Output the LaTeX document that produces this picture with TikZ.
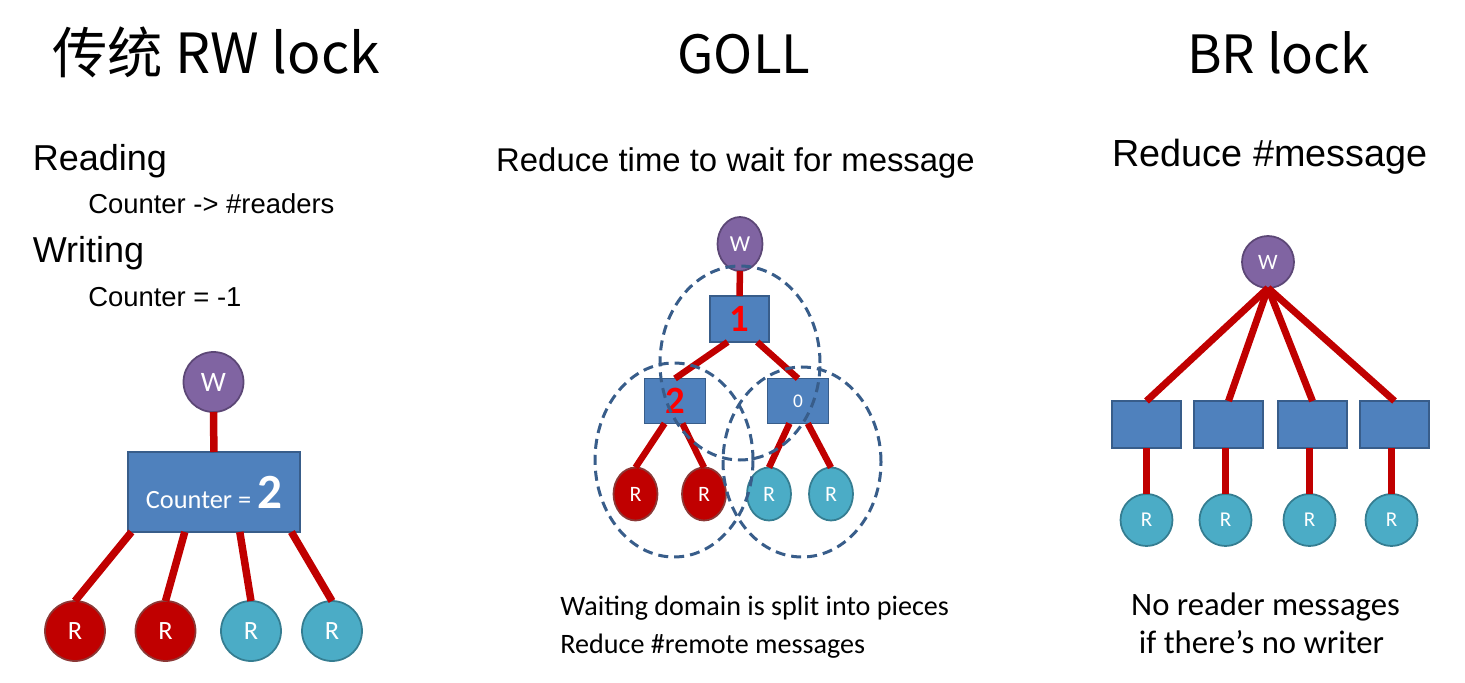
\documentclass[tikz,border=0pt]{standalone}
\usepackage{fontspec}
\usepackage{tikz}
\usepackage{xcolor}
\usetikzlibrary{shapes.geometric,calc}

\setmainfont{Liberation Sans}
\newfontfamily\titlefont{Noto Sans CJK SC}
\newfontfamily\calfont{Carlito}

\definecolor{wFill}{HTML}{8064A2}
\definecolor{wDraw}{HTML}{5C4776}
\definecolor{boxFill}{HTML}{4F81BD}
\definecolor{boxDraw}{HTML}{385D8A}
\definecolor{redFill}{HTML}{C00000}
\definecolor{redDraw}{HTML}{8C3836}
\definecolor{cyanFill}{HTML}{4BACC6}
\definecolor{cyanDraw}{HTML}{357D91}
\definecolor{linkRed}{HTML}{C00000}
\definecolor{domainBlue}{HTML}{385D8A}

\begin{document}
\begin{tikzpicture}
% Define styles
\tikzstyle{titleText}=[font=\titlefont\fontsize{30}{35}\selectfont, anchor=base, inner sep=0pt]
\tikzstyle{wNode}=[circle, inner sep=0pt, outer sep=0pt, fill=wFill, draw=wDraw, line width=1pt, text=white, font=\calfont]
\tikzstyle{wOval}=[ellipse, inner sep=0pt, outer sep=0pt, fill=wFill, draw=wDraw, line width=1pt, text=white, font=\calfont]
\tikzstyle{redR}=[circle, inner sep=0pt, outer sep=0pt, fill=redFill, draw=redDraw, line width=1pt, text=white, font=\calfont]
\tikzstyle{cyanR}=[circle, inner sep=0pt, outer sep=0pt, fill=cyanFill, draw=cyanDraw, line width=1pt, text=white, font=\calfont]
\tikzstyle{redOval}=[ellipse, inner sep=0pt, outer sep=0pt, fill=redFill, draw=redDraw, line width=1pt, text=white, font=\calfont\fontsize{12.5}{15}\selectfont, minimum width=0.88cm, minimum height=1.06cm]
\tikzstyle{cyanOval}=[ellipse, inner sep=0pt, outer sep=0pt, fill=cyanFill, draw=cyanDraw, line width=1pt, text=white, font=\calfont\fontsize{12.5}{15}\selectfont, minimum width=0.88cm, minimum height=1.06cm]
\tikzstyle{blueBox}=[rectangle, inner sep=0pt, outer sep=0pt, fill=boxFill, draw=boxDraw, line width=1pt, text=white, font=\calfont]
\tikzstyle{link}=[draw=linkRed, line width=0.15cm]
\tikzstyle{waitDomain}=[ellipse, draw=domainBlue, line width=0.06cm, dash pattern=on 0.2cm off 0.12cm, inner sep=0pt]

\useasboundingbox (0,0) rectangle (29.3,-13.66);

% Titles
\node[titleText, font=\titlefont\fontsize{31.5}{36}\selectfont] (tRW) at (4.32,-1.48) {传统 RW lock};
\node[titleText] (tGOLL) at (14.88,-1.48) {GOLL};
\node[titleText] (tBR) at (25.57,-1.48) {BR lock};

% Traditional RW lock
\node[anchor=base west, inner sep=0pt, font=\fontsize{20.5}{24}\selectfont] (reading) at (0.65,-3.42) {Reading};
\node[anchor=base west, inner sep=0pt, font=\fontsize{15.6}{19}\selectfont] (readCnt) at (1.76,-4.28) {Counter -> \#readers};
\node[anchor=base west, inner sep=0pt, font=\fontsize{20.5}{24}\selectfont] (writing) at (0.65,-5.25) {Writing};
\node[anchor=base west, inner sep=0pt, font=\fontsize{15.6}{19}\selectfont] (writeCnt) at (1.76,-6.14) {Counter = -1};

\node[wNode, minimum size=1.2cm, font=\calfont\fontsize{16}{19}\selectfont] (lw) at (4.27,-7.64) {W};
\node[blueBox, minimum width=3.44cm, minimum height=1.6cm] (cnt) at (4.28,-9.84)
  {\fontsize{15}{18}\selectfont Counter = \fontsize{28}{32}\selectfont\textbf{2}};
\node[redR, minimum size=1.2cm, font=\calfont\fontsize{15}{18}\selectfont] (lr1) at (1.5,-12.62) {R};
\node[redR, minimum size=1.2cm, font=\calfont\fontsize{15}{18}\selectfont] (lr2) at (3.31,-12.62) {R};
\node[cyanR, minimum size=1.2cm, font=\calfont\fontsize{15}{18}\selectfont] (lr3) at (5.02,-12.62) {R};
\node[cyanR, minimum size=1.2cm, font=\calfont\fontsize{15}{18}\selectfont] (lr4) at (6.64,-12.62) {R};

\draw[link] (lw) -- (cnt);
\draw[link] (lr1.north) -- ($(cnt.south west)!0.02!(cnt.south east)$);
\draw[link] (lr2.north) -- ($(cnt.south west)!0.33!(cnt.south east)$);
\draw[link] (lr3.north) -- ($(cnt.south west)!0.65!(cnt.south east)$);
\draw[link] (lr4.north) -- ($(cnt.south west)!0.95!(cnt.south east)$);

% GOLL
\node[anchor=base, inner sep=0pt, font=\fontsize{18.7}{22}\selectfont] (gollSub) at (14.71,-3.44) {Reduce time to wait for message};

\node[wOval, minimum width=0.9cm, minimum height=1.08cm, font=\calfont\fontsize{13}{15}\selectfont] (mw) at (14.8,-4.88) {W};
\node[blueBox, minimum width=1.18cm, minimum height=0.92cm, text=red, font=\calfont\bfseries\fontsize{22}{24}\selectfont] (m1) at (14.79,-6.38) {1};
\node[blueBox, minimum width=1.22cm, minimum height=0.9cm, text=red, font=\calfont\bfseries\fontsize{22}{24}\selectfont] (m2) at (13.5,-8.02) {2};
\node[blueBox, minimum width=1.22cm, minimum height=0.9cm, font=\calfont\fontsize{11}{13}\selectfont] (m0) at (15.96,-8.02) {0};
\node[redOval] (mr1) at (12.71,-9.88) {R};
\node[redOval] (mr2) at (14.08,-9.88) {R};
\node[cyanOval] (mr3) at (15.38,-9.88) {R};
\node[cyanOval] (mr4) at (16.62,-9.88) {R};

\draw[link, line width=0.13cm] (mw) -- (m1);
\draw[link, line width=0.13cm] ($(m1.south west)!0.3!(m1.south east)$) -- (m2.north);
\draw[link, line width=0.13cm] ($(m1.south west)!0.8!(m1.south east)$) -- (m0.north);
\draw[link, line width=0.13cm] ($(m2.south west)!0.33!(m2.south east)$) -- (mr1.north);
\draw[link, line width=0.13cm] ($(m2.south west)!0.62!(m2.south east)$) -- (mr2.north);
\draw[link, line width=0.13cm] ($(m0.south west)!0.36!(m0.south east)$) -- (mr3.north);
\draw[link, line width=0.13cm] ($(m0.south west)!0.66!(m0.south east)$) -- (mr4.north);

% waiting domains
\node[waitDomain, minimum width=3.2cm, minimum height=3.88cm] (domTop) at (14.8,-7.26) {};
\node[waitDomain, minimum width=3.16cm, minimum height=3.88cm] (domLeft) at (13.48,-9.2) {};
\node[waitDomain, minimum width=3.16cm, minimum height=3.8cm] (domRight) at (16.04,-9.24) {};

\node[anchor=base west, inner sep=0pt, font=\calfont\fontsize{16}{19}\selectfont] (gollNote1) at (11.2,-12.3) {Waiting domain is split into pieces};
\node[anchor=base west, inner sep=0pt, font=\calfont\fontsize{16}{19}\selectfont] (gollNote2) at (11.2,-13.06) {Reduce \#remote messages};

% BR lock
\node[anchor=base, inner sep=0pt, font=\fontsize{21.5}{25}\selectfont] (brSub) at (25.4,-3.34) {Reduce \#message};

\node[wNode, minimum size=1.04cm, font=\calfont\fontsize{12.5}{15}\selectfont] (bw) at (25.36,-5.24) {W};
\node[blueBox, minimum width=1.38cm, minimum height=0.94cm] (b1) at (22.93,-8.49) {};
\node[blueBox, minimum width=1.38cm, minimum height=0.94cm] (b2) at (24.57,-8.49) {};
\node[blueBox, minimum width=1.38cm, minimum height=0.94cm] (b3) at (26.25,-8.49) {};
\node[blueBox, minimum width=1.38cm, minimum height=0.94cm] (b4) at (27.89,-8.49) {};
\node[cyanR, minimum size=1.04cm, font=\calfont\fontsize{12}{14}\selectfont] (br1) at (22.93,-10.4) {R};
\node[cyanR, minimum size=1.04cm, font=\calfont\fontsize{12}{14}\selectfont] (br2) at (24.51,-10.4) {R};
\node[cyanR, minimum size=1.04cm, font=\calfont\fontsize{12}{14}\selectfont] (br3) at (26.19,-10.4) {R};
\node[cyanR, minimum size=1.04cm, font=\calfont\fontsize{12}{14}\selectfont] (br4) at (27.83,-10.4) {R};

\draw[link, line width=0.14cm] (bw.south) -- (b1.north);
\draw[link, line width=0.14cm] (bw.south) -- (b2.north);
\draw[link, line width=0.14cm] (bw.south) -- (b3.north);
\draw[link, line width=0.14cm] (bw.south) -- (b4.north);
\draw[link, line width=0.14cm] (br1.north) -- (br1.north |- b1.south);
\draw[link, line width=0.14cm] (br2.north) -- (br2.north |- b2.south);
\draw[link, line width=0.14cm] (br3.north) -- (br3.north |- b3.south);
\draw[link, line width=0.14cm] (br4.north) -- (br4.north |- b4.south);

\node[anchor=base, inner sep=0pt, font=\calfont\fontsize{18.6}{22}\selectfont] (brNote1) at (25.31,-12.3) {No reader messages};
\node[anchor=base, inner sep=0pt, font=\calfont\fontsize{18.6}{22}\selectfont] (brNote2) at (25.23,-13.06) {if there’s no writer};
\end{tikzpicture}
\end{document}
